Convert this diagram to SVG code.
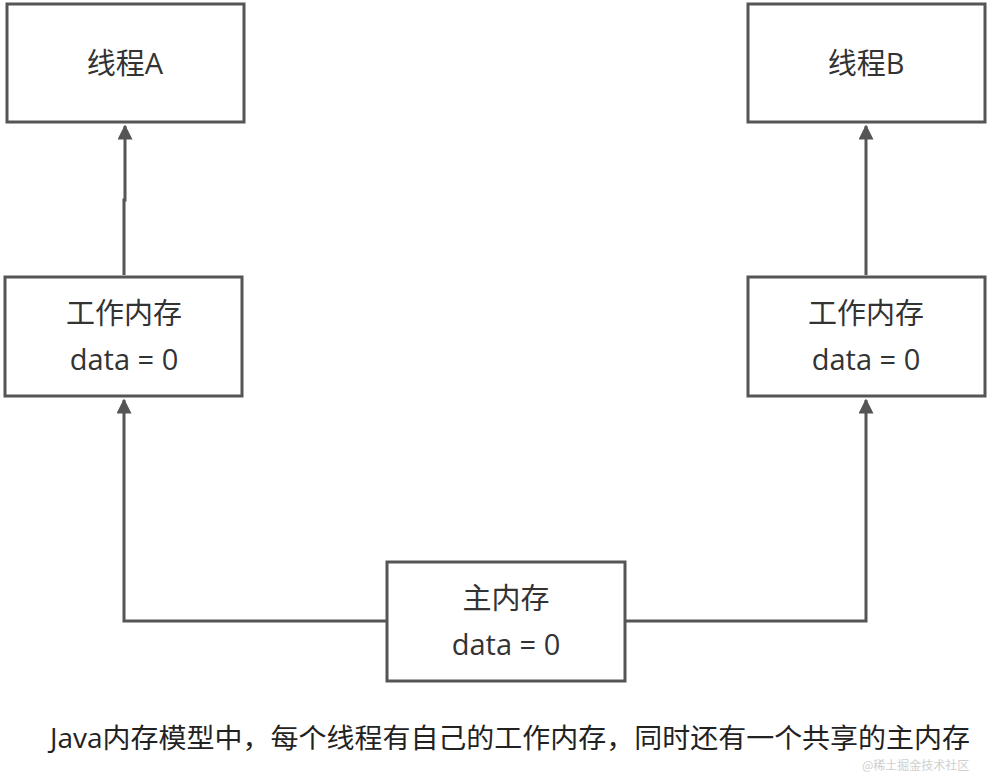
<svg xmlns="http://www.w3.org/2000/svg" width="991" height="772" viewBox="0 0 991 772">
<style>
.box{fill:#fff;stroke:#555;stroke-width:3}
.t{font-family:"Open Sans","Noto Sans CJK SC",sans-serif;font-size:29px;fill:#333;text-anchor:middle}
.c{stroke:#555;stroke-width:3;fill:none}
</style>
<defs><marker id="ar" viewBox="0 0 10 10" refX="9" refY="5" markerWidth="5" markerHeight="5" orient="auto"><path d="M0,0L10,5L0,10z" fill="#555"/></marker></defs>
<rect width="991" height="772" fill="#fff"/>
<g id="connectors">
<path class="c" d="M124,275V200H125V126" marker-end="url(#ar)"/>
<path class="c" d="M866,275V126" marker-end="url(#ar)"/>
<path class="c" d="M386,621H124V400" marker-end="url(#ar)"/>
<path class="c" d="M626,621H866V400" marker-end="url(#ar)"/>
</g>
<g id="threadA"><rect class="box" x="7" y="4" width="237" height="118"/><text class="t" x="125" y="74">线程A</text></g>
<g id="threadB"><rect class="box" x="748" y="4" width="237" height="118"/><text class="t" x="866" y="74">线程B</text></g>
<g id="workA"><rect class="box" x="5" y="277" width="237" height="119"/><text class="t" x="124" y="324">工作内存</text><text class="t" x="124" y="370">data = 0</text></g>
<g id="workB"><rect class="box" x="748" y="277" width="237" height="119"/><text class="t" x="866" y="324">工作内存</text><text class="t" x="866" y="370">data = 0</text></g>
<g id="main"><rect class="box" x="387" y="562" width="238" height="119"/><text class="t" x="506" y="609">主内存</text><text class="t" x="506" y="655">data = 0</text></g>
<text x="50" y="748" textLength="920" lengthAdjust="spacingAndGlyphs" font-family="'Open Sans','Noto Sans CJK SC',sans-serif" font-size="27" fill="#222">Java内存模型中，每个线程有自己的工作内存，同时还有一个共享的主内存</text>
<text x="862" y="770" font-family="'Noto Sans CJK SC',sans-serif" font-size="12" fill="#bbb" opacity="0.7">@稀土掘金技术社区</text>
</svg>
